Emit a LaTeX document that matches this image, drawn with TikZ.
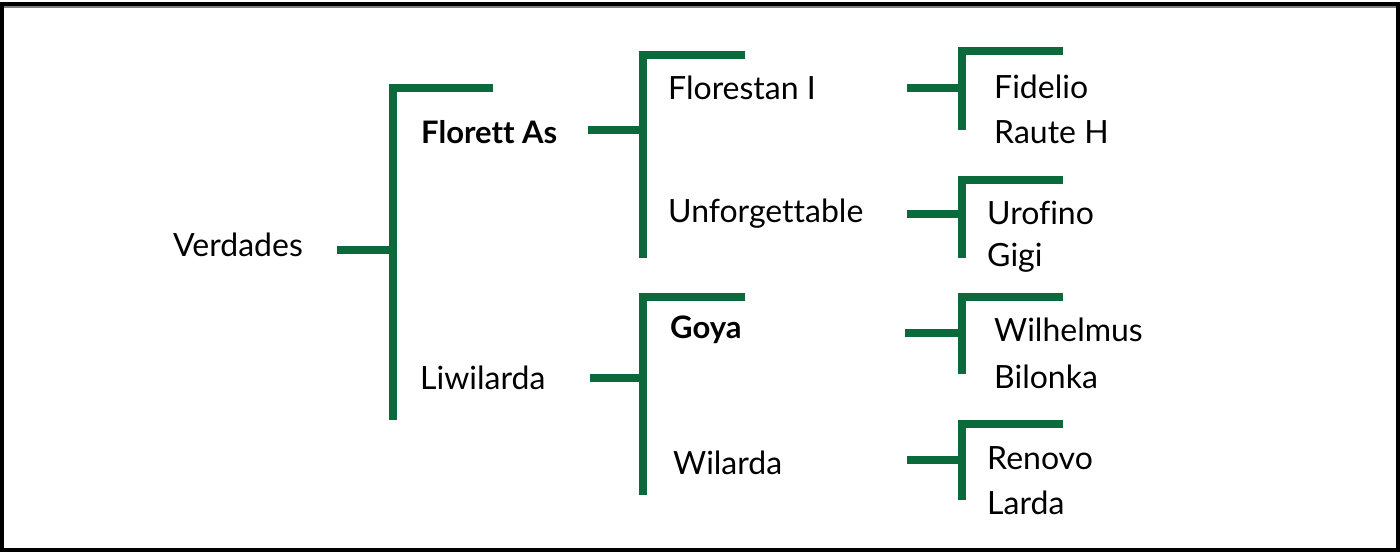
\documentclass[tikz,border=0pt]{standalone}
\usepackage{fontspec}
\setmainfont{Lato}[Ligatures=NoCommon]
\definecolor{brgreen}{HTML}{0B6A3C}
\begin{document}
\begin{tikzpicture}[x=1pt,y=-1pt,
  lbl/.style={anchor=west,inner sep=0pt,font=\fontsize{32}{36}\selectfont},
  blbl/.style={lbl,font=\fontsize{31}{36}\selectfont\bfseries},
  br/.style={draw=brgreen,line width=8pt,line cap=butt,line join=miter}]
\useasboundingbox (0,0) rectangle (1400,552);
\fill[white] (0,0) rectangle (1400,552);
\draw[black,line width=4pt] (2,4) rectangle (1398,550);
\draw[gray,line width=2pt] (4,7) -- (1396,7);
\newcommand{\mybr}[6]{% stubx0, x, ytop, ybot, armx, ystub
  \draw[br] (#1,#6) -- (#2,#6);
  \draw[br] (#5,#3) -- (#2-4,#3) -- (#2-4,#4);
}
\mybr{337}{397}{88}{420}{493}{250}
\mybr{588}{647}{55}{258}{745}{130}
\mybr{590}{647}{297}{495}{745}{378}
\mybr{907}{966}{51}{130}{1063}{88}
\mybr{907}{966}{180}{258}{1063}{214}
\mybr{905}{966}{297}{374}{1063}{333}
\mybr{907}{966}{424}{500}{1063}{460}
\node[lbl] (verdades) at (173,245) {Verdades};
\node[blbl] (florett) at (421,132) {Florett As};
\node[lbl] (liwi) at (420,378) {Liwilarda};
\node[lbl] (florestan) at (668,88) {Florestan I};
\node[lbl] (unf) at (668,214) {Unforgettable};
\node[blbl] (goya) at (670,330) {Goya};
\node[lbl] (wilarda) at (673,463) {Wilarda};
\node[lbl] (fidelio) at (994,87) {Fidelio};
\node[lbl] (raute) at (994,132) {Raute H};
\node[lbl] (urofino) at (987,213) {Urofino};
\node[lbl] (gigi) at (987,258) {Gigi};
\node[lbl] (wilh) at (994,330) {Wilhelmus};
\node[lbl] (bilonka) at (994,377) {Bilonka};
\node[lbl] (renovo) at (987,458) {Renovo};
\node[lbl] (larda) at (987,503) {Larda};
\end{tikzpicture}
\end{document}
